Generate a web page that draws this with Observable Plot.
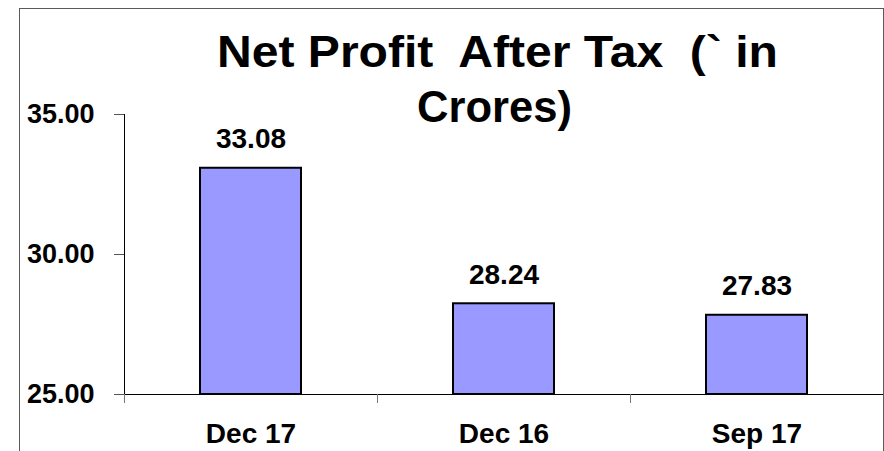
<!DOCTYPE html>
<html>
<head>
<meta charset="utf-8">
<script src="https://cdn.jsdelivr.net/npm/d3@7"></script>
<script src="https://cdn.jsdelivr.net/npm/@observablehq/plot@0.6"></script>
<style>
  html, body { margin: 0; padding: 0; background: #fff; overflow: hidden; }
  #wrap { position: relative; width: 884px; height: 451px; overflow: hidden; background: #fff; }
  #border { position: absolute; left: 19px; top: 8px; width: 863px; height: 500px;
            border-left: 1px solid #5a5a5a; border-top: 1px solid #5a5a5a; border-right: 1px solid #5a5a5a;
            pointer-events: none; }
  svg { font-family: "Liberation Sans", Arial, sans-serif; font-weight: bold; color: #000; }
</style>
</head>
<body>
<div id="wrap"><div id="border"></div></div>
<script>
// ---- data ----
const categories = ["Dec 17", "Dec 16", "Sep 17"];
const values = [33.08, 28.24, 27.83];
const yDomain = [25, 35];
const yTicks = [25, 30, 35];
const titleLines = ["Net Profit  After Tax  (` in", "Crores)"];

const data = categories.map((c, i) => ({label: c, value: values[i]}));
const yMin = yDomain[0];

const chart = Plot.plot({
  width: 884,
  height: 451,
  marginLeft: 124,
  marginRight: 0,
  marginTop: 114,
  marginBottom: 57,
  style: {background: "transparent", color: "#000", fontFamily: "'Liberation Sans', Arial, sans-serif"},
  x: {domain: categories, paddingInner: 0.6, paddingOuter: 0.3, label: null},
  y: {domain: yDomain, label: null},
  marks: [
    Plot.barY(data, {x: "label", y1: () => yMin, y2: "value", fill: "#9999ff", stroke: "#000", strokeWidth: 2}),
    Plot.ruleY([yMin], {stroke: "#000", strokeWidth: 1}),
    Plot.frame({anchor: "left", stroke: "#000"}),
    Plot.axisY({ticks: yTicks, tickSize: 10, tickPadding: 20, tickFormat: d3.format(".2f"),
                fontSize: 27, fontWeight: "bold", stroke: "#555", label: null}),
    Plot.axisX({tickSize: 0, tickPadding: 29, fontSize: 28, fontWeight: "bold", label: null}),
    Plot.text(data, {x: "label", y: "value", text: d => d.value.toFixed(2), lineAnchor: "bottom",
                     dy: -20, fontSize: 28, fontWeight: "bold", fill: "#000"})
  ]
});

document.getElementById("wrap").insertBefore(chart, document.getElementById("border"));

// category boundary ticks below the x axis, from the band scale
const xs = chart.scale("x");
const ysc = chart.scale("y");
const svg = d3.select(chart);
const gap = xs.step - xs.bandwidth;
const y0 = ysc.apply(yMin);
svg.append("g").attr("stroke", "#777").selectAll("line")
  .data(categories)
  .join("line")
  .attr("x1", d => xs.apply(d) - gap / 2 + 0.5)
  .attr("x2", d => xs.apply(d) - gap / 2 + 0.5)
  .attr("y1", y0)
  .attr("y2", y0 + 9);

// title
const t = svg.append("g").attr("font-size", 44).attr("font-weight", "bold").attr("fill", "#000")
  .attr("text-anchor", "middle").style("white-space", "pre");
t.append("text").attr("x", 497.5).attr("y", 67).attr("textLength", 561)
  .attr("lengthAdjust", "spacingAndGlyphs").text(titleLines[0]);
t.append("text").attr("x", 494.5).attr("y", 122).attr("textLength", 155)
  .attr("lengthAdjust", "spacingAndGlyphs").text(titleLines[1]);
</script>
</body>
</html>
